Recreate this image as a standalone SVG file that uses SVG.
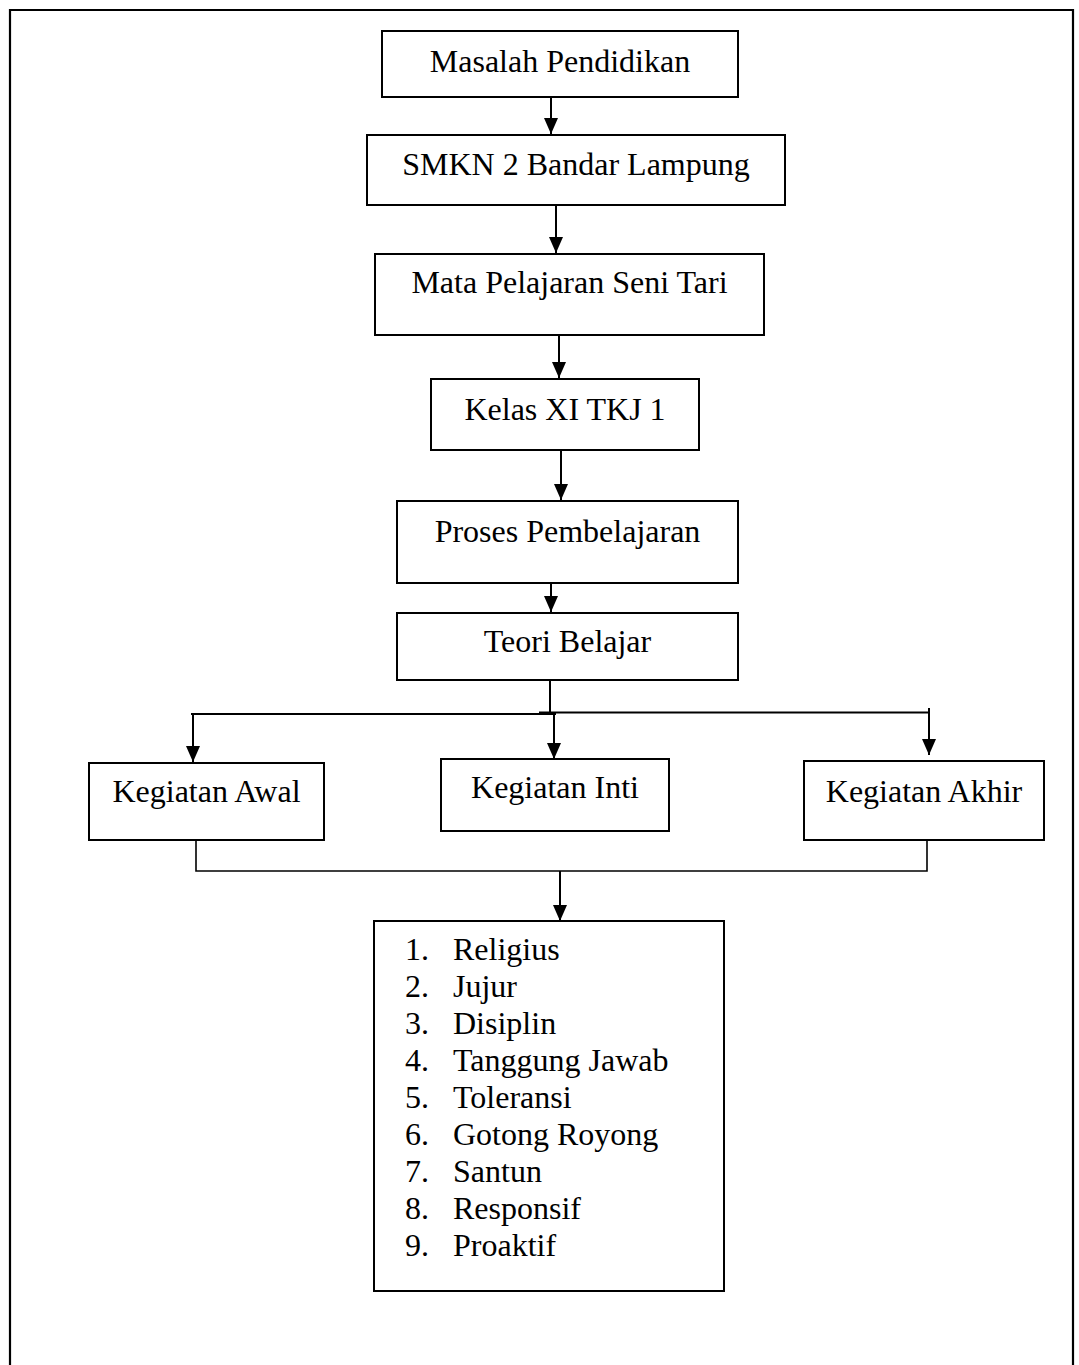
<svg xmlns="http://www.w3.org/2000/svg" width="1079" height="1365" viewBox="0 0 1079 1365">
<style>
.box{fill:#fff;stroke:#000;stroke-width:2}
.t{font-family:"Liberation Serif","Times New Roman",serif;font-size:32px;fill:#000}
.c{text-anchor:middle}
.ln{fill:none;stroke:#000;stroke-width:2}
.thin{fill:none;stroke:#000;stroke-width:1.6}
</style>
<defs>
<marker id="ah" markerUnits="userSpaceOnUse" markerWidth="16" markerHeight="14" viewBox="0 0 16 14" refX="16" refY="7" orient="auto">
<path d="M0,0 L16,7 L0,14 Z" fill="#000"/>
</marker>
</defs>
<rect width="1079" height="1365" fill="#fff"/>
<path d="M10,1366 V10 H1073 V1366" fill="none" stroke="#000" stroke-width="2.2"/>
<g id="connectors">
<line class="ln" x1="551" y1="97" x2="551" y2="134" marker-end="url(#ah)"/>
<line class="ln" x1="556" y1="205" x2="556" y2="253" marker-end="url(#ah)"/>
<line class="ln" x1="559" y1="335" x2="559" y2="378" marker-end="url(#ah)"/>
<line class="ln" x1="561" y1="450" x2="561" y2="500" marker-end="url(#ah)"/>
<line class="ln" x1="551" y1="583" x2="551" y2="612" marker-end="url(#ah)"/>
<line class="ln" x1="550" y1="680" x2="550" y2="714"/>
<line class="ln" x1="191" y1="714" x2="556" y2="714"/>
<line class="ln" x1="539" y1="712.5" x2="930" y2="712.5"/>
<line class="ln" x1="193" y1="714" x2="193" y2="762" marker-end="url(#ah)"/>
<line class="ln" x1="554" y1="712" x2="554" y2="759" marker-end="url(#ah)"/>
<line class="ln" x1="929" y1="708" x2="929" y2="755" marker-end="url(#ah)"/>
<path class="thin" d="M196,840 V871 H927 V840"/>
<line class="ln" x1="560" y1="871" x2="560" y2="921" marker-end="url(#ah)"/>
</g>
<g id="n-masalah"><rect class="box" x="382" y="31" width="356" height="66"/><text class="t c" x="560" y="72">Masalah Pendidikan</text></g>
<g id="n-smkn"><rect class="box" x="367" y="135" width="418" height="70"/><text class="t c" x="576" y="175">SMKN 2 Bandar Lampung</text></g>
<g id="n-mapel"><rect class="box" x="375" y="254" width="389" height="81"/><text class="t c" x="569.5" y="293">Mata Pelajaran Seni Tari</text></g>
<g id="n-kelas"><rect class="box" x="431" y="379" width="268" height="71"/><text class="t c" x="565" y="420">Kelas XI TKJ 1</text></g>
<g id="n-proses"><rect class="box" x="397" y="501" width="341" height="82"/><text class="t c" x="567.5" y="542">Proses Pembelajaran</text></g>
<g id="n-teori"><rect class="box" x="397" y="613" width="341" height="67"/><text class="t c" x="567.5" y="652">Teori Belajar</text></g>
<g id="n-awal"><rect class="box" x="89" y="763" width="235" height="77"/><text class="t c" x="206.5" y="802">Kegiatan Awal</text></g>
<g id="n-inti"><rect class="box" x="441" y="759" width="228" height="72"/><text class="t c" x="555" y="798">Kegiatan Inti</text></g>
<g id="n-akhir"><rect class="box" x="804" y="761" width="240" height="79"/><text class="t c" x="924" y="802">Kegiatan Akhir</text></g>
<g id="n-list"><rect class="box" x="374" y="921" width="350" height="370"/>
<text class="t" x="405" y="960">1.</text><text class="t" x="453" y="960">Religius</text>
<text class="t" x="405" y="997">2.</text><text class="t" x="453" y="997">Jujur</text>
<text class="t" x="405" y="1034">3.</text><text class="t" x="453" y="1034">Disiplin</text>
<text class="t" x="405" y="1071">4.</text><text class="t" x="453" y="1071">Tanggung Jawab</text>
<text class="t" x="405" y="1108">5.</text><text class="t" x="453" y="1108">Toleransi</text>
<text class="t" x="405" y="1145">6.</text><text class="t" x="453" y="1145">Gotong Royong</text>
<text class="t" x="405" y="1182">7.</text><text class="t" x="453" y="1182">Santun</text>
<text class="t" x="405" y="1219">8.</text><text class="t" x="453" y="1219">Responsif</text>
<text class="t" x="405" y="1256">9.</text><text class="t" x="453" y="1256">Proaktif</text>
</g>
</svg>
